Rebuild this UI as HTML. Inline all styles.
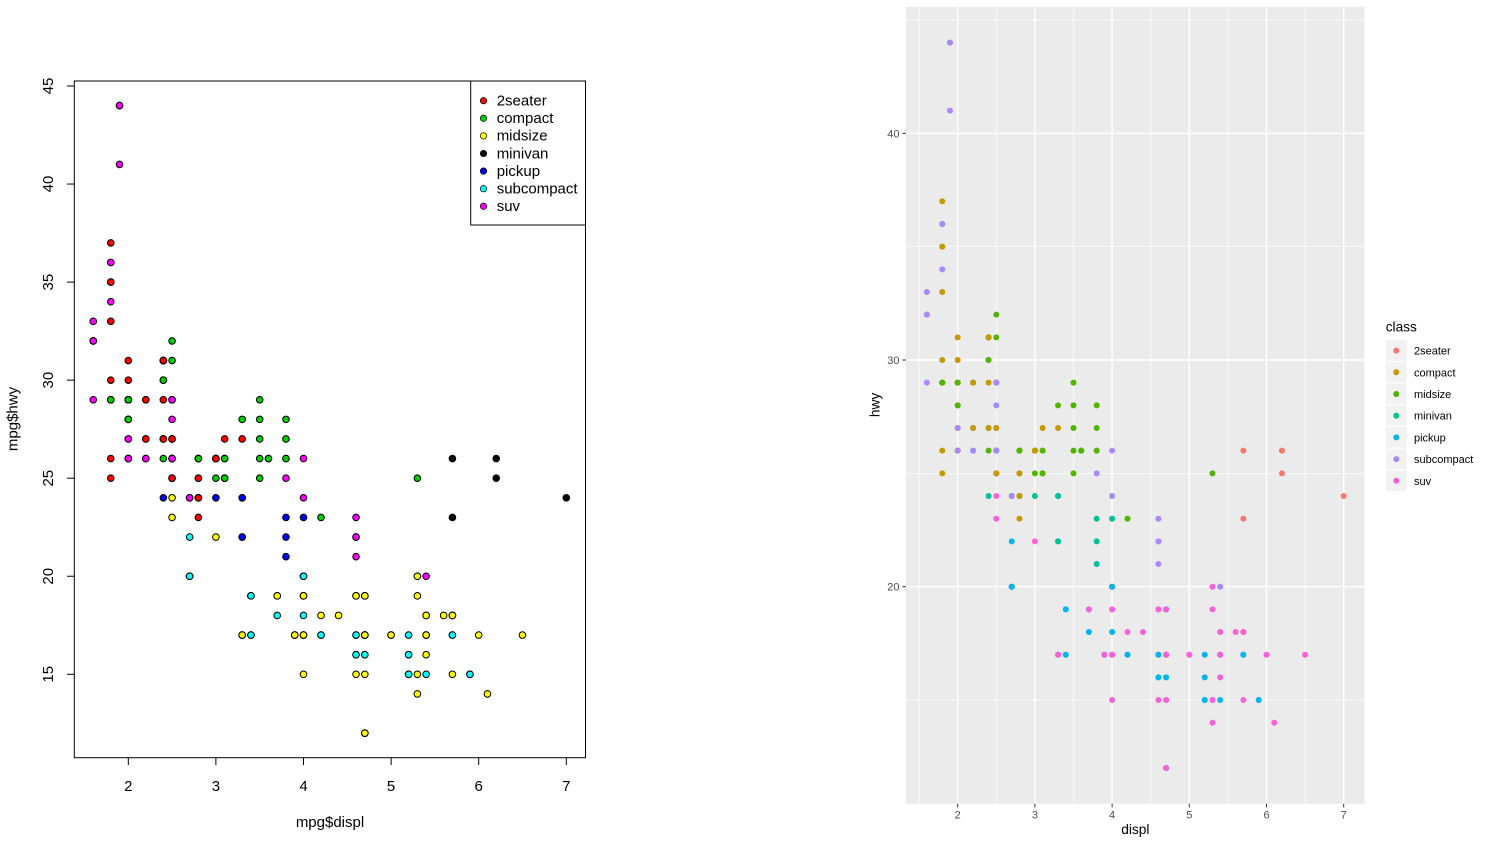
<!DOCTYPE html>
<html>
<head>
<meta charset="utf-8">
<style>
  html, body { margin:0; padding:0; background:#ffffff; }
  svg { display:block; }
  .lt { font-family:"Liberation Sans", Arial, sans-serif; font-size:15px; fill:#000; }
  .rt { font-family:"Liberation Sans", Arial, sans-serif; font-size:11px; fill:#4D4D4D; }
  .rl { font-family:"Liberation Sans", Arial, sans-serif; font-size:13.7px; fill:#000; }
  .rleg { font-family:"Liberation Sans", Arial, sans-serif; font-size:11px; fill:#000; }
</style>
</head>
<body>
<svg id="s" width="1488" height="851" viewBox="0 0 1488 851" xmlns="http://www.w3.org/2000/svg">
  <rect x="0" y="0" width="1488" height="851" fill="#ffffff"/>

  <!-- LEFT: base R plot -->
  <g id="leftAxes" stroke="#000" stroke-width="1" fill="none">
    <rect x="74.3" y="81" width="511.2" height="676.7"/>
    <!-- x ticks -->
    <line x1="128.3" y1="757.7" x2="128.3" y2="765"/>
    <line x1="215.9" y1="757.7" x2="215.9" y2="765"/>
    <line x1="303.5" y1="757.7" x2="303.5" y2="765"/>
    <line x1="391.1" y1="757.7" x2="391.1" y2="765"/>
    <line x1="478.7" y1="757.7" x2="478.7" y2="765"/>
    <line x1="566.3" y1="757.7" x2="566.3" y2="765"/>
    <!-- y ticks -->
    <line x1="67" y1="674.3" x2="74.3" y2="674.3"/>
    <line x1="67" y1="576.25" x2="74.3" y2="576.25"/>
    <line x1="67" y1="478.2" x2="74.3" y2="478.2"/>
    <line x1="67" y1="380.15" x2="74.3" y2="380.15"/>
    <line x1="67" y1="282.1" x2="74.3" y2="282.1"/>
    <line x1="67" y1="184.05" x2="74.3" y2="184.05"/>
    <line x1="67" y1="86" x2="74.3" y2="86"/>
  </g>
  <g class="lt" text-anchor="middle">
    <text x="128.3" y="791">2</text>
    <text x="215.9" y="791">3</text>
    <text x="303.5" y="791">4</text>
    <text x="391.1" y="791">5</text>
    <text x="478.7" y="791">6</text>
    <text x="566.3" y="791">7</text>
    <text transform="translate(53,674.3) rotate(-90)">15</text>
    <text transform="translate(53,576.25) rotate(-90)">20</text>
    <text transform="translate(53,478.2) rotate(-90)">25</text>
    <text transform="translate(53,380.15) rotate(-90)">30</text>
    <text transform="translate(53,282.1) rotate(-90)">35</text>
    <text transform="translate(53,184.05) rotate(-90)">40</text>
    <text transform="translate(53,86) rotate(-90)">45</text>
    <text x="330" y="827">mpg$displ</text>
    <text transform="translate(17.5,419) rotate(-90)">mpg$hwy</text>
  </g>
  <g id="leftPts"></g>
  <!-- left legend -->
  <rect x="470.7" y="81" width="114.8" height="144" fill="#fff" stroke="#000" stroke-width="1"/>
  <g stroke="#000" stroke-width="0.7">
    <circle cx="483.5" cy="100.7" r="3.2" fill="#FF0000"/>
    <circle cx="483.5" cy="118.3" r="3.2" fill="#00CD00"/>
    <circle cx="483.5" cy="135.9" r="3.2" fill="#FFFF00"/>
    <circle cx="483.5" cy="153.5" r="3.2" fill="#000000"/>
    <circle cx="483.5" cy="171.1" r="3.2" fill="#0000FF"/>
    <circle cx="483.5" cy="188.7" r="3.2" fill="#00FFFF"/>
    <circle cx="483.5" cy="206.3" r="3.2" fill="#FF00FF"/>
  </g>
  <g class="lt">
    <text x="496.7" y="105.5">2seater</text>
    <text x="496.7" y="123.1">compact</text>
    <text x="496.7" y="140.7">midsize</text>
    <text x="496.7" y="158.3">minivan</text>
    <text x="496.7" y="175.9">pickup</text>
    <text x="496.7" y="193.5">subcompact</text>
    <text x="496.7" y="211.1">suv</text>
  </g>

  <!-- RIGHT: ggplot -->
  <rect x="906" y="6.7" width="458.5" height="797" fill="#EBEBEB"/>
  <g stroke="#ffffff" stroke-width="0.7" id="minor">
    <line x1="919.1" y1="6.7" x2="919.1" y2="803.7"/>
    <line x1="996.3" y1="6.7" x2="996.3" y2="803.7"/>
    <line x1="1073.5" y1="6.7" x2="1073.5" y2="803.7"/>
    <line x1="1150.7" y1="6.7" x2="1150.7" y2="803.7"/>
    <line x1="1227.9" y1="6.7" x2="1227.9" y2="803.7"/>
    <line x1="1305.1" y1="6.7" x2="1305.1" y2="803.7"/>
    <line x1="906" y1="700.0" x2="1364.5" y2="700.0"/>
    <line x1="906" y1="473.3" x2="1364.5" y2="473.3"/>
    <line x1="906" y1="246.7" x2="1364.5" y2="246.7"/>
    <line x1="906" y1="20.0" x2="1364.5" y2="20.0"/>
  </g>
  <g stroke="#ffffff" stroke-width="1.4" id="major">
    <line x1="957.7" y1="6.7" x2="957.7" y2="803.7"/>
    <line x1="1034.9" y1="6.7" x2="1034.9" y2="803.7"/>
    <line x1="1112.1" y1="6.7" x2="1112.1" y2="803.7"/>
    <line x1="1189.3" y1="6.7" x2="1189.3" y2="803.7"/>
    <line x1="1266.5" y1="6.7" x2="1266.5" y2="803.7"/>
    <line x1="1343.7" y1="6.7" x2="1343.7" y2="803.7"/>
    <line x1="906" y1="586.7" x2="1364.5" y2="586.7"/>
    <line x1="906" y1="360.0" x2="1364.5" y2="360.0"/>
    <line x1="906" y1="133.3" x2="1364.5" y2="133.3"/>
  </g>
  <g id="rightPts"></g>
  <!-- right ticks -->
  <g stroke="#333333" stroke-width="1">
    <line x1="957.7" y1="803.7" x2="957.7" y2="807.4"/>
    <line x1="1034.9" y1="803.7" x2="1034.9" y2="807.4"/>
    <line x1="1112.1" y1="803.7" x2="1112.1" y2="807.4"/>
    <line x1="1189.3" y1="803.7" x2="1189.3" y2="807.4"/>
    <line x1="1266.5" y1="803.7" x2="1266.5" y2="807.4"/>
    <line x1="1343.7" y1="803.7" x2="1343.7" y2="807.4"/>
    <line x1="902.3" y1="586.7" x2="906" y2="586.7"/>
    <line x1="902.3" y1="360.0" x2="906" y2="360.0"/>
    <line x1="902.3" y1="133.3" x2="906" y2="133.3"/>
  </g>
  <g class="rt" text-anchor="middle">
    <text x="957.7" y="818.7">2</text>
    <text x="1034.9" y="818.7">3</text>
    <text x="1112.1" y="818.7">4</text>
    <text x="1189.3" y="818.7">5</text>
    <text x="1266.5" y="818.7">6</text>
    <text x="1343.7" y="818.7">7</text>
  </g>
  <g class="rt" text-anchor="end">
    <text x="899.5" y="590.7">20</text>
    <text x="899.5" y="364.0">30</text>
    <text x="899.5" y="137.3">40</text>
  </g>
  <text class="rl" x="1135.3" y="834" text-anchor="middle">displ</text>
  <text class="rl" transform="translate(879.5,405) rotate(-90)" text-anchor="middle">hwy</text>

  <!-- right legend -->
  <text class="rl" x="1385.7" y="331.7">class</text>
  <g fill="#F2F2F2">
    <rect x="1386" y="340.2" width="20.7" height="20.7"/>
    <rect x="1386" y="361.9" width="20.7" height="20.7"/>
    <rect x="1386" y="383.6" width="20.7" height="20.7"/>
    <rect x="1386" y="405.3" width="20.7" height="20.7"/>
    <rect x="1386" y="427.0" width="20.7" height="20.7"/>
    <rect x="1386" y="448.7" width="20.7" height="20.7"/>
    <rect x="1386" y="470.4" width="20.7" height="20.7"/>
  </g>
  <g>
    <circle cx="1396.3" cy="350.6" r="3" fill="#F8766D"/>
    <circle cx="1396.3" cy="372.3" r="3" fill="#C49A00"/>
    <circle cx="1396.3" cy="394.0" r="3" fill="#53B400"/>
    <circle cx="1396.3" cy="415.7" r="3" fill="#00C094"/>
    <circle cx="1396.3" cy="437.4" r="3" fill="#00B6EB"/>
    <circle cx="1396.3" cy="459.1" r="3" fill="#A58AFF"/>
    <circle cx="1396.3" cy="480.8" r="3" fill="#FB61D7"/>
  </g>
  <g class="rleg">
    <text x="1414" y="354.6">2seater</text>
    <text x="1414" y="376.3">compact</text>
    <text x="1414" y="398.0">midsize</text>
    <text x="1414" y="419.7">minivan</text>
    <text x="1414" y="441.4">pickup</text>
    <text x="1414" y="463.1">subcompact</text>
    <text x="1414" y="484.8">suv</text>
  </g>
</svg>
<script>
(function(){
var D = "1.8 29 c,1.8 29 c,2.0 31 c,2.0 30 c,2.8 26 c,2.8 26 c,3.1 27 c,1.8 26 c,1.8 25 c,2.0 28 c,2.0 27 c,2.8 25 c,2.8 25 c,3.1 25 c,3.1 25 c,2.8 24 m,3.1 25 m,4.2 23 m,5.3 20 u,5.3 15 u,5.3 20 u,5.7 17 u,6.0 17 u,5.7 26 t,5.7 23 t,6.2 26 t,6.2 25 t,7.0 24 t,5.3 19 u,5.3 14 u,5.7 15 u,6.5 17 u,2.4 27 m,2.4 30 m,3.1 26 m,3.5 29 m,3.6 26 m,2.4 24 v,3.0 24 v,3.3 22 v,3.3 22 v,3.3 24 v,3.3 24 v,3.3 17 v,3.8 22 v,3.8 21 v,3.8 23 v,4.0 23 v,3.7 19 p,3.7 18 p,3.9 17 p,3.9 17 p,4.7 19 p,4.7 19 p,4.7 12 p,5.2 15 p,5.2 17 p,3.9 17 u,4.7 17 u,4.7 12 u,4.7 17 u,5.2 16 u,5.7 18 u,5.9 15 u,4.7 16 p,4.7 12 p,4.7 17 p,4.7 17 p,4.7 16 p,4.7 12 p,5.2 15 p,5.2 16 p,5.7 17 p,5.9 15 p,4.6 17 u,5.4 17 u,5.4 18 u,4.0 17 u,4.0 19 u,4.0 17 u,4.0 19 u,4.6 19 u,5.0 17 u,4.2 17 p,4.2 17 p,4.6 16 p,4.6 16 p,4.6 17 p,5.4 15 p,5.4 17 p,3.8 26 s,3.8 25 s,4.0 26 s,4.0 24 s,4.6 21 s,4.6 22 s,4.6 23 s,4.6 22 s,5.4 20 s,1.6 33 s,1.6 32 s,1.6 32 s,1.6 29 s,1.6 32 s,1.8 34 s,1.8 36 s,1.8 36 s,2.0 29 s,2.4 26 m,2.4 27 m,2.4 30 m,2.4 31 m,2.5 26 m,2.5 26 m,3.3 28 m,2.0 26 s,2.0 29 s,2.0 28 s,2.0 27 s,2.7 24 s,2.7 24 s,2.7 24 s,3.0 22 u,3.7 19 u,4.0 20 u,4.7 17 u,4.7 12 u,4.7 19 u,5.7 18 u,6.1 14 u,4.0 15 u,4.2 18 u,4.4 18 u,4.6 15 u,5.4 17 u,5.4 16 u,5.4 18 u,4.0 17 u,4.0 19 u,4.6 19 u,5.0 17 u,2.4 29 c,2.4 27 c,2.5 31 m,2.5 32 m,3.5 27 m,3.5 26 m,3.0 26 m,3.0 25 m,3.5 25 m,3.3 17 u,3.3 17 u,4.0 20 u,5.6 18 u,3.1 26 m,3.8 26 m,3.8 27 m,3.8 28 m,5.3 25 m,2.5 25 u,2.5 24 u,2.5 27 u,2.5 25 u,2.5 26 u,2.5 23 u,2.2 26 s,2.2 26 s,2.5 26 s,2.5 26 s,2.5 25 c,2.5 27 c,2.5 25 c,2.5 27 c,2.7 20 u,2.7 20 u,3.4 19 u,3.4 17 u,4.0 20 u,4.7 17 u,2.2 29 m,2.2 27 m,2.4 31 m,2.4 31 m,3.0 26 m,3.0 26 m,3.5 28 m,2.2 27 c,2.2 29 c,2.4 31 c,2.4 31 c,3.0 26 c,3.0 26 c,3.3 27 c,1.8 30 c,1.8 33 c,1.8 35 c,1.8 37 c,1.8 35 c,4.7 15 u,5.7 18 u,2.7 20 p,2.7 20 p,2.7 22 p,3.4 17 p,3.4 19 p,4.0 18 p,4.0 20 p,2.0 29 c,2.0 26 c,2.0 29 c,2.0 29 c,2.8 24 c,1.9 44 c,2.0 29 c,2.0 26 c,2.0 29 c,2.0 29 c,2.5 29 c,2.5 29 c,2.8 23 c,2.8 24 c,1.9 44 s,1.9 41 s,2.0 29 s,2.0 26 s,2.5 28 s,2.5 29 s,1.8 29 m,1.8 29 m,2.0 28 m,2.0 29 m,2.8 26 m,2.8 26 m,3.6 26 m";
var LC = {t:"#000000",c:"#FF0000",m:"#00CD00",v:"#0000FF",p:"#00FFFF",s:"#FF00FF",u:"#FFFF00"};
var RC = {t:"#F8766D",c:"#C49A00",m:"#53B400",v:"#00C094",p:"#00B6EB",s:"#A58AFF",u:"#FB61D7"};
var NS = "http://www.w3.org/2000/svg";
var lg = document.getElementById("leftPts");
var rg = document.getElementById("rightPts");
var rows = D.split(",");
for (var i=0;i<rows.length;i++){
  var p = rows[i].split(" ");
  var d = parseFloat(p[0]), h = parseFloat(p[1]), k = p[2];
  var c1 = document.createElementNS(NS,"circle");
  c1.setAttribute("cx", (128.3 + (d-2)*87.6).toFixed(2));
  c1.setAttribute("cy", (674.3 - (h-15)*19.61).toFixed(2));
  c1.setAttribute("r", "3.3");
  c1.setAttribute("fill", LC[k]);
  c1.setAttribute("stroke", "#000");
  c1.setAttribute("stroke-width", "1");
  lg.appendChild(c1);
  var c2 = document.createElementNS(NS,"circle");
  c2.setAttribute("cx", (957.7 + (d-2)*77.2).toFixed(2));
  c2.setAttribute("cy", (133.3 - (h-40)*22.67).toFixed(2));
  c2.setAttribute("r", "3");
  c2.setAttribute("fill", RC[k]);
  rg.appendChild(c2);
}
})();
</script>
</body>
</html>
